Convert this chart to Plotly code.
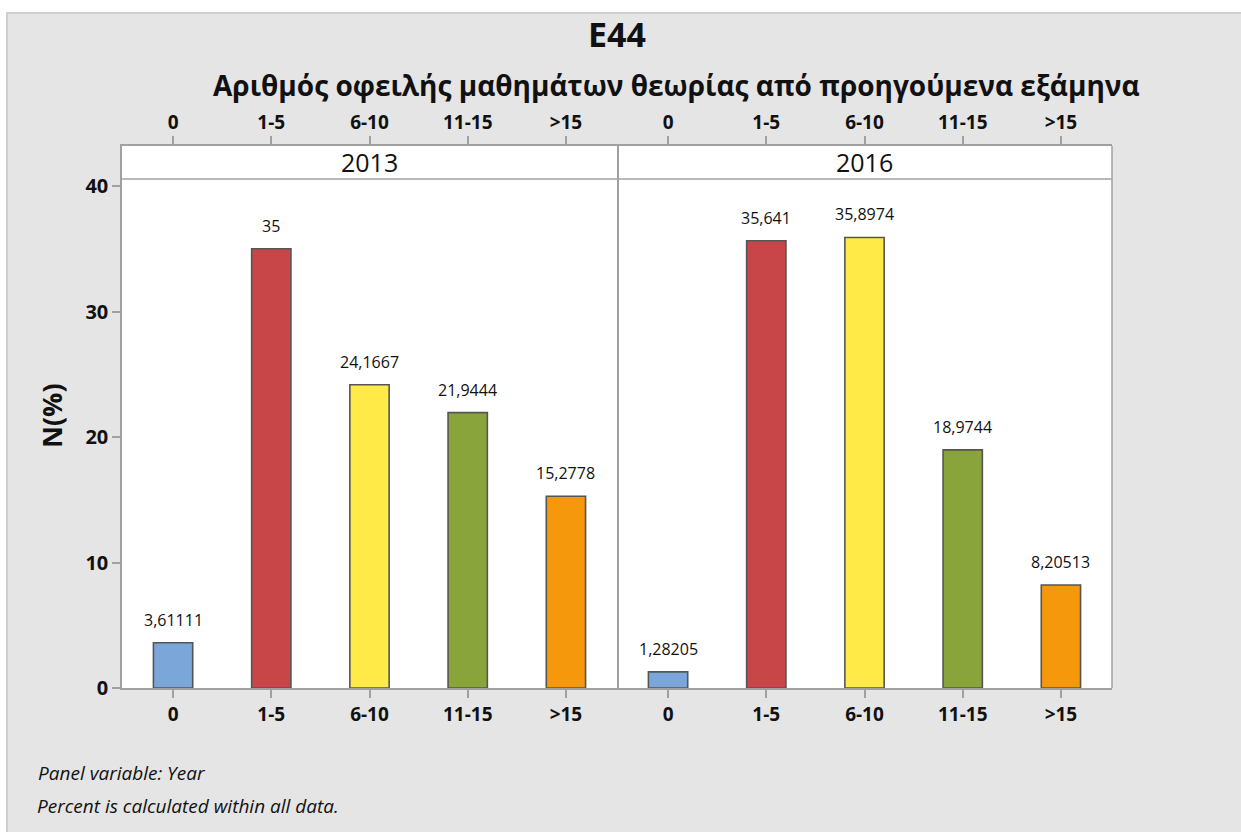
import plotly.graph_objects as go

categories = ["0", "1-5", "6-10", "11-15", ">15"]
years = ["2013", "2016"]
values_2013 = [3.61111, 35, 24.1667, 21.9444, 15.2778]
values_2016 = [1.28205, 35.641, 35.8974, 18.9744, 8.20513]
labels_2013 = ["3,61111", "35", "24,1667", "21,9444", "15,2778"]
labels_2016 = ["1,28205", "35,641", "35,8974", "18,9744", "8,20513"]
bar_colors = ["#7BA6DA", "#C84648", "#FFEA47", "#89A43B", "#F5980B"]
y_ticks = [0, 10, 20, 30, 40]

W, H = 1241, 832
L, R, T, B = 122, 1112, 146, 688
FONT = "Open Sans"
GRAY = "#A0A0A0"
INK = "#111111"

def px_x(p):
    return (p - L) / (R - L)

def px_y(p):
    return (B - p) / (B - T)

xs = list(range(len(categories)))
fig = go.Figure()
for vals, xa, ya in [(values_2013, "x", "y"), (values_2016, "x2", "y2")]:
    fig.add_trace(go.Bar(
        x=xs, y=vals, xaxis=xa, yaxis=ya, width=0.40,
        marker=dict(color=bar_colors, line=dict(color="#555555", width=1.6)),
        showlegend=False, hoverinfo="skip",
    ))

annos = []
for vals, labs, xa, ya in [(values_2013, labels_2013, "x", "y"), (values_2016, labels_2016, "x2", "y2")]:
    for xi, v, t in zip(xs, vals, labs):
        annos.append(dict(x=xi, y=v, xref=xa, yref=ya, text=t, showarrow=False,
                          yanchor="middle", yshift=23,
                          font=dict(family=FONT, size=16, color=INK)))

ymax = (B - T) / 12.55
xr = [-0.52, 4.52]
ax_common = dict(range=xr, tickvals=xs, ticktext=categories, showline=True, linecolor=GRAY,
                 linewidth=1.5, ticks="outside", ticklen=8, tickcolor=GRAY, tickwidth=1.5,
                 showgrid=False, zeroline=False, fixedrange=True,
                 tickfont=dict(family=FONT, size=19, color=INK, weight="bold"))

fig.update_layout(
    width=W, height=H,
    margin=dict(l=L, r=W - R, t=T, b=H - B),
    paper_bgcolor="white", plot_bgcolor="white",
    xaxis=dict(domain=[0, 0.5], anchor="y", **ax_common),
    xaxis2=dict(domain=[0.5, 1], anchor="y2", **ax_common),
    xaxis3=dict(domain=[0, 0.5], anchor="y", overlaying="x", side="top", **ax_common),
    xaxis4=dict(domain=[0.5, 1], anchor="y2", overlaying="x2", side="top", **ax_common),
    yaxis=dict(domain=[0, 1], anchor="x", range=[0, ymax], tickvals=y_ticks,
               showline=True, mirror=True, linecolor=GRAY, linewidth=1.5,
               ticks="outside", ticklen=8, tickcolor=GRAY, tickwidth=1.5,
               showgrid=False, zeroline=False, fixedrange=True,
               tickfont=dict(family=FONT, size=20, color=INK, weight="bold")),
    yaxis2=dict(domain=[0, 1], anchor="x2", range=[0, ymax], showticklabels=False,
                showline=False, ticks="", showgrid=False, zeroline=False, fixedrange=True),
)
for xa, ya in [("x3", "y"), ("x4", "y2")]:
    fig.add_trace(go.Scatter(x=[None], y=[None], xaxis=xa, yaxis=ya, showlegend=False,
                             hoverinfo="skip"))

shapes = [
    dict(type="rect", xref="paper", yref="paper", layer="below",
         x0=px_x(7), x1=px_x(W + 20), y0=px_y(H + 20), y1=px_y(13),
         fillcolor="#E5E5E5", line=dict(color="#CFCFCF", width=2)),
    dict(type="rect", xref="paper", yref="paper", layer="below",
         x0=0, x1=1, y0=0, y1=1, fillcolor="white", line=dict(width=0)),
    dict(type="line", xref="paper", yref="paper", x0=0, x1=1, y0=px_y(179), y1=px_y(179),
         line=dict(color=GRAY, width=1.5)),
    dict(type="line", xref="paper", yref="paper", x0=1, x1=1, y0=0, y1=1,
         line=dict(color=GRAY, width=1.5)),
]
fig.update_layout(shapes=shapes)

for xa, year in [("x", years[0]), ("x2", years[1])]:
    annos.append(dict(x=2, y=px_y(162), xref=xa, yref="paper", text=year, showarrow=False,
                      yanchor="middle", font=dict(family=FONT, size=25, color=INK)))

annos += [
    dict(x=0.5, y=px_y(34), xref="paper", yref="paper", text="<b>E44</b>", showarrow=False,
         yanchor="middle", font=dict(family=FONT, size=34, color=INK)),
    dict(x=px_x(676), y=px_y(85), xref="paper", yref="paper",
         text="<b>Αριθμός οφειλής μαθημάτων θεωρίας από προηγούμενα εξάμηνα</b>",
         showarrow=False, yanchor="middle", font=dict(family=FONT, size=28, color=INK)),
    dict(x=px_x(51), y=px_y(416), xref="paper", yref="paper", text="<b>N(%)</b>",
         showarrow=False, textangle=-90, xanchor="center", yanchor="middle",
         font=dict(family=FONT, size=27, color=INK)),
    dict(x=px_x(36), y=px_y(773), xref="paper", yref="paper", text="<i>Panel variable: Year</i>",
         showarrow=False, xanchor="left", yanchor="middle",
         font=dict(family=FONT, size=19, color=INK)),
    dict(x=px_x(35), y=px_y(806), xref="paper", yref="paper",
         text="<i>Percent is calculated within all data.</i>",
         showarrow=False, xanchor="left", yanchor="middle",
         font=dict(family=FONT, size=19, color=INK)),
]
fig.update_layout(annotations=annos)

fig.write_html("out.html", config={"displayModeBar": False},
               post_script="document.body.style.margin='0px';document.body.style.overflow='hidden';")
